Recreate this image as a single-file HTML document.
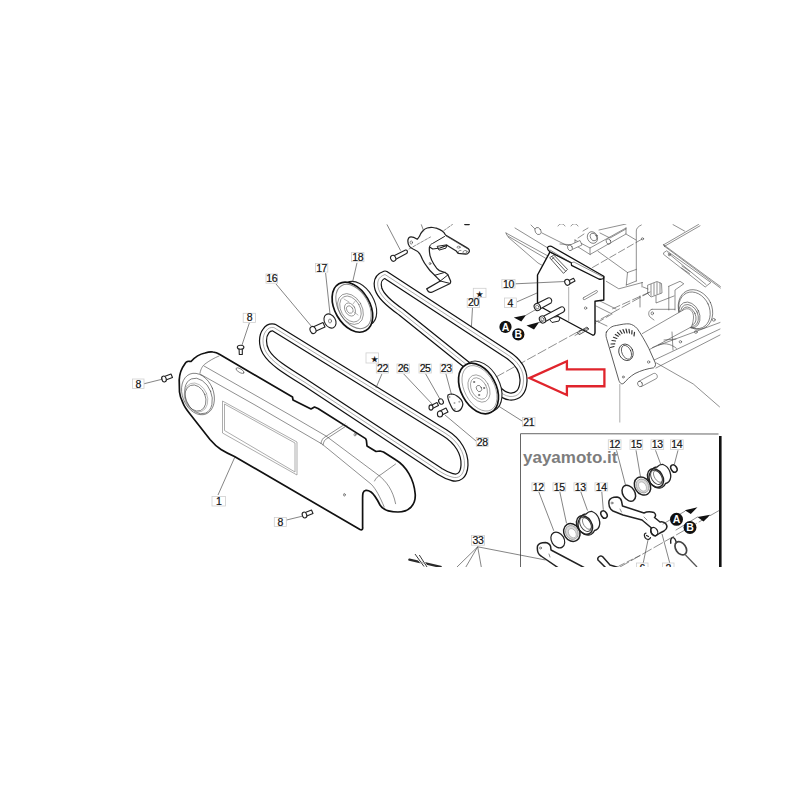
<!DOCTYPE html>
<html><head><meta charset="utf-8">
<style>
html,body{margin:0;padding:0;background:#fff;width:800px;height:800px;overflow:hidden}
svg{display:block}
.k{stroke:#111;stroke-width:1.7;fill:none;stroke-linejoin:round;stroke-linecap:round}
.kf{stroke:#111;stroke-width:1.7;fill:#fff;stroke-linejoin:round;stroke-linecap:round}
.m{stroke:#222;stroke-width:1.1;fill:none;stroke-linejoin:round;stroke-linecap:round}
.mf{stroke:#222;stroke-width:1.1;fill:#fff;stroke-linejoin:round;stroke-linecap:round}
.t{stroke:#444;stroke-width:0.6;fill:none;stroke-linecap:round}
.g{stroke:#777;stroke-width:0.6;fill:none}
.lg{stroke:#8a8a8a;stroke-width:0.7;fill:none}
.ld{stroke:#333;stroke-width:0.6;fill:none}
.lb rect{fill:#fff;stroke:#cfcfcf;stroke-width:0.8}
.lb text{font-family:"Liberation Sans",sans-serif;font-size:10.5px;fill:#111;stroke:#111;stroke-width:0.2;letter-spacing:-0.4px;text-anchor:middle}
</style></head>
<body>
<svg width="800" height="800" viewBox="0 0 800 800">
<defs>
<clipPath id="cl"><rect x="0" y="224" width="800" height="343"/></clipPath>
</defs>
<g clip-path="url(#cl)">

<!-- ===== BACKGROUND MACHINE ===== -->
<g id="machine" class="t">
<path d="M506 233 L548 256 M506 233 L507 235.5 L546 258.5 M508 237 L538 263 L565 278"/>
<path d="M515 228 L547 247.5 M542 233 L568 246 M531 225 L535 229"/>
<ellipse cx="538" cy="231" rx="2.8" ry="3.8" transform="rotate(-30 538 231)"/>
<path d="M558 226 C560 223 563 223 565 226 M571 226 C573 223 576 223 578 226"/>
<path d="M575 240 L590 248 L626 228 M590 248 L590 254.5 L626 234 L626 228 M575 240 L575 245 L590 254.5 M560 244 L575 245"/>
<path d="M598 251.3 L627.5 272.5 L636.3 269.4 M627.5 272.5 L626.3 285 M626 234 L636 240"/>
<path d="M599 230 L626 224 M600 233 L610 238 L626 229"/>
<ellipse style="fill:#fff" cx="592.5" cy="237.5" rx="5" ry="6" transform="rotate(-25 592.5 237.5)"/>
<ellipse cx="593.5" cy="237" rx="3" ry="4" transform="rotate(-25 593.5 237)"/>
<path style="fill:#fff" d="M569 245.5 L580 240.5 L582 245 L571 250 Z"/>
<ellipse style="fill:#fff" cx="570" cy="247.8" rx="2.3" ry="2.9" transform="rotate(-25 570 247.8)"/>
<path d="M583 231 L588 228 M584 234 L578 238"/>
<ellipse cx="608.5" cy="241.5" rx="2.2" ry="2.8" transform="rotate(-25 608.5 241.5)"/>
<path d="M641.3 225 C638 226.5 636.3 228.5 636.3 231 L636.3 281"/>
<path d="M592.5 267.5 L642.5 238.8" style="stroke-dasharray:7 3"/>
<circle cx="642.5" cy="238.8" r="1.1"/>
<path d="M606.3 281.3 L618.8 288.8 L642.5 282.5 M626.3 285 L636.3 281"/>
<path d="M612.5 308.8 L648.8 292.5" style="stroke-dasharray:8 3"/>
<path d="M663.6 244.8 L698.5 224.5 M664.5 246.3 L700 225.8 M663.6 244.8 L664.5 246.3 M663.6 244.8 L720.4 286.5 M664.5 246.3 L720.4 288"/>
<path d="M667 251 L710.9 282.5 L705.2 287 L663.6 254.4 L663.6 253.2 Z M668 253 L706 284.5 M682 266 L690 271.5 M681.5 268 L689.5 273.5"/>
<circle cx="669.3" cy="254.8" r="1"/>
<path d="M673 224.6 L684.5 231"/>
<path d="M648 285 L657 281.5 L661.5 283.5 L662 293 L651 297 L648 294 Z M651 284.5 L651 295.5 M654 283.5 L654 295 M657 282.5 L657 294 M660 283 L660 293"/>
<path d="M642 282.5 L642 287 M643 287 L648 289 M656 296 L656 303 L674 296 M640 296 L640 307"/>
<path d="M668.8 286.3 L680 281.3 L683.8 283.8 L675 290 L675 310 M668.8 286.3 L668.8 310"/>
<path d="M652 309.3 L674.8 309.3 M652 309.3 C648 310 648 315 650 317 L654 320" />
<ellipse cx="652.3" cy="313.3" rx="1.2" ry="1.5"/>
<ellipse style="fill:#fff" cx="695.5" cy="309.5" rx="16.5" ry="20.5" transform="rotate(-25 695.5 309.5)"/>
<ellipse cx="694.5" cy="310.3" rx="15" ry="19" transform="rotate(-25 694.5 310.3)"/>
<ellipse cx="689.4" cy="315" rx="10" ry="13.5" transform="rotate(-25 689.4 315)"/>
<ellipse cx="689.5" cy="315.5" rx="8.3" ry="11.5" transform="rotate(-25 689.5 315.5)"/>
<ellipse cx="689" cy="316" rx="6.5" ry="9.5" transform="rotate(-25 689 316)"/>
<path style="fill:#fff" d="M642.3 333.6 L684.5 309.3 C690 307 694 312 693.5 318 C693 323 692 326 691 327.1 L648.8 349.9"/>
<path d="M652.5 347.5 L720 322.5 M656 368 L720 335 M650 362 L720 329"/>
<path d="M658.5 345 C663 343 670 343 676.4 348.3"/>
<path d="M672 332 L673 350 M664 340 L676 339"/>
<circle cx="695.9" cy="332" r="1.4"/>
<circle cx="680.4" cy="341.8" r="1.2"/>
<circle cx="713.8" cy="319.8" r="1.4"/>
<path d="M600 301 L616 309 M596 306 L612 314 M590 318 L607 326"/>
<path d="M656.5 363 L693.3 384 L719.5 406.8"/>
<path d="M638.5 381.5 L653.5 373.5 C656.5 372.5 658.5 376.5 656.5 378.5 L641.5 386.5"/>
<ellipse cx="640" cy="384" rx="2.3" ry="2.8" transform="rotate(-28 640 384)"/>
<path d="M496 377 L650 292" style="stroke-dasharray:9 3"/>
<path d="M575 335.5 L612 314" style="stroke-dasharray:6 3"/>
</g>
<g id="dial">
<path class="t" style="fill:#fff;stroke:#333;stroke-width:0.8" d="M606.5 332 C609 328 612 326 616.3 325.5 C621 324.5 626 323.5 629.3 323.9 C632 324.3 635 326 637.4 328.8 C641 334 645 341 648.8 348.3 L655.3 362.9 C656 365 655 367 653.6 367.8 C648 368.5 641 370.5 635 373.5 C630 376.5 626.5 380 624 383 C622 384.8 620 383.5 618.9 380.5 L606.6 338.5 C605.8 336 605.8 334 606.5 332 Z"/>
<ellipse class="t" style="stroke:#333;stroke-width:0.8" cx="626" cy="352.3" rx="7" ry="8.5" transform="rotate(-25 626 352.3)"/>
<ellipse class="t" style="stroke:#333;stroke-width:0.7" cx="626.5" cy="352.3" rx="4.5" ry="7.3" transform="rotate(-25 626.5 352.3)"/>
<g class="t" style="stroke-width:1.2;stroke:#333">
<path d="M610.5 347.5 L614 346.5 M611 344 L614.8 343.8 M612 340.5 L615.5 341 M613.5 337.3 L616.8 338.5 M615.3 334.5 L618.3 336.3 M617.5 332.3 L620 334.8 M620 330.5 L622 333.5 M623 329.5 L624.5 333 M626 329 L627 332.8 M629 329.3 L629.5 333 M632 330.5 L631.8 334 M634.5 332.3 L634 335.8"/>
</g>
<circle class="t" cx="623.3" cy="377" r="1"/>
<circle class="t" cx="648.6" cy="362" r="1.2"/>
<path class="lg" d="M619.8 384 L619.8 422.5"/>
</g>

<!-- ===== BELT 20 ===== -->
<g id="belt20">
<path class="k" style="stroke-width:8.2" d="M385 274.5 L505 353 C518 361 524 370 523.5 381 C523 392 518 397 510 396.5 C505 396 501 393 498 390 L401 312 C391 305 381 297 378.5 289 C376.5 282 378 277 385 274.5 Z"/>
<path style="stroke:#fff;stroke-width:5.8;fill:none;stroke-linejoin:round" d="M385 274.5 L505 353 C518 361 524 370 523.5 381 C523 392 518 397 510 396.5 C505 396 501 393 498 390 L401 312 C391 305 381 297 378.5 289 C376.5 282 378 277 385 274.5 Z"/>
<path class="g" d="M385 274.5 L505 353 C518 361 524 370 523.5 381 C523 392 518 397 510 396.5 C505 396 501 393 498 390 L401 312 C391 305 381 297 378.5 289 C376.5 282 378 277 385 274.5 Z"/>
</g>

<!-- ===== BELT 22 ===== -->
<g id="belt22">
<path class="k" style="stroke-width:8.2" d="M273.8 327.5 L445 433 C458 441 465 453 464.5 465 C464 476 458 479 452 477 C448 476 444 474 440 471.5 L305 382.4 C285 370 272 362 266 352 C262 345 262 336 266 331 C268 328 271 327 273.8 327.5 Z"/>
<path style="stroke:#fff;stroke-width:5.8;fill:none;stroke-linejoin:round" d="M273.8 327.5 L445 433 C458 441 465 453 464.5 465 C464 476 458 479 452 477 C448 476 444 474 440 471.5 L305 382.4 C285 370 272 362 266 352 C262 345 262 336 266 331 C268 328 271 327 273.8 327.5 Z"/>
<path class="g" d="M273.8 327.5 L445 433 C458 441 465 453 464.5 465 C464 476 458 479 452 477 C448 476 444 474 440 471.5 L305 382.4 C285 370 272 362 266 352 C262 345 262 336 266 331 C268 328 271 327 273.8 327.5 Z"/>
</g>

<!-- ===== PULLEY 18 ===== -->
<g id="p18">
<ellipse class="mf" cx="359" cy="303.5" rx="15" ry="24" transform="rotate(-30 359 303.5)"/>
<ellipse class="kf" cx="352.4" cy="307.2" rx="17.5" ry="27" transform="rotate(-30 352.4 307.2)"/>
<ellipse class="t" style="stroke:#888;stroke-width:1" cx="353.5" cy="306.5" rx="15" ry="24" transform="rotate(-30 353.5 306.5)"/>
<ellipse class="t" style="stroke:#666" cx="350.5" cy="309" rx="11.5" ry="16.5" transform="rotate(-30 350.5 309)"/>
<ellipse class="t" style="stroke:#666" cx="350.5" cy="309" rx="9.5" ry="14" transform="rotate(-30 350.5 309)"/>
<ellipse class="t" style="stroke:#666" cx="350" cy="309.5" rx="5" ry="7" transform="rotate(-30 350 309.5)"/>
<ellipse class="t" style="stroke:#666" cx="349.7" cy="309.5" rx="3" ry="4" transform="rotate(-30 349.7 309.5)"/>
<path class="t" style="stroke:#888" d="M344 299 L349 302 M356 300 L353 304 M358 315 L354 312"/>
</g>
<!-- washer 17 -->
<ellipse class="m" cx="330" cy="321" rx="5.5" ry="7.5" transform="rotate(-30 330 321)"/>
<ellipse class="t" cx="330" cy="321" rx="1.5" ry="2" />
<!-- screw 16 -->
<path class="mf" d="M313 327 L323 322.5 L325 327 L315 331.5 Z"/>
<ellipse class="mf" cx="313" cy="330" rx="2.8" ry="3.6" transform="rotate(-25 313 330)"/>

<!-- ===== PULLEY 21 ===== -->
<g id="p21">
<ellipse class="mf" cx="482" cy="386.3" rx="17.5" ry="27" transform="rotate(-28 482 386.3)"/>
<ellipse class="kf" cx="478.5" cy="388.5" rx="17.5" ry="27" transform="rotate(-28 478.5 388.5)"/>
<ellipse class="t" style="stroke:#777" cx="479.5" cy="388.3" rx="15" ry="24.5" transform="rotate(-28 479.5 388.3)"/>
<ellipse class="t" style="stroke:#777" cx="479" cy="388.5" rx="10" ry="14.5" transform="rotate(-28 479 388.5)"/>
<ellipse class="t" style="stroke:#777" cx="479" cy="388.5" rx="7.5" ry="11.5" transform="rotate(-28 479 388.5)"/>
<ellipse class="t" cx="479" cy="388.5" rx="2.5" ry="3.3" transform="rotate(-28 479 388.5)"/>
<circle class="t" cx="474" cy="382" r="0.7"/><circle class="t" cx="484" cy="388" r="0.7"/><circle class="t" cx="479" cy="395" r="0.7"/>
</g>

<!-- plate 23, screws 25 26 28 -->
<path class="mf" style="stroke-width:1.2" d="M448 395 C451 393.2 455 394 459 397.5 C462 400 463.5 403 462.5 406 C461.5 409 459 411.5 456.5 411.5 C454 411.5 452.5 409.5 451 406 C449 402 446.8 397.5 448 395 Z"/>
<g style="fill:#aaa"><circle cx="449.5" cy="397" r="1"/><circle cx="459.3" cy="401.8" r="1"/><circle cx="454.8" cy="409.1" r="1"/><circle cx="454.5" cy="403" r="1"/></g>
<ellipse class="mf" cx="441" cy="401.5" rx="2.2" ry="2.8" transform="rotate(-30 441 401.5)"/>
<path class="mf" d="M431 405.5 L437 402.5 L438.5 405.5 L432.5 408.5 Z"/>
<ellipse class="mf" cx="431" cy="407.5" rx="2" ry="2.6"/>
<path class="mf" d="M439 411.5 L446 408 L448 412 L441 415.5 Z"/>
<ellipse class="mf" cx="440" cy="414" rx="2.6" ry="3"/>

<!-- ===== COVER 1 ===== -->
<g id="cover">
<path class="kf" d="M179.5 392 L179.2 380 C179.5 375 181 369 184.5 364.5 C185.5 362 187.5 361 189.5 361.3 L191 361.5 C195 357 200 354 205 353 C208 352 211 351.5 213 352 C215.5 352.3 217.5 353 219 354 L292.5 397 L293 400 L311 409 L314.5 407 L318 408.5 L365.6 438.6 L366.4 440.5 L367 446 L376 451.5 L380 451 L383.5 452 L396 460 C406 466 414 479 415.2 494 C416 505 409 512 398 512 C390 512 383 510 380 505 C377 499 375 495 371 492 C367 489.5 364 490 363 493 C362.5 495 362.6 497 362.6 500 L362.6 527 C363 529 362 530.5 360 529.5 L234.5 456.5 C229 454 225 452 221 449.5 C217 447 213 443 210 439.5 L190 414 C186 409 184 406 183 403 C181 399 179.8 396 179.5 392 Z"/>

<path class="t" d="M200 373 C201 368 203 365.5 205 364 C209 361 214 358 219 356"/>
<path class="t" d="M204 366 L290 415 L326 436 L378.6 475.3 C386 481 393 490 395.6 503.7"/>
<path class="t" d="M200 374 L255 405 L322 444 L371.2 484.2 C376 489 380 497 384.2 507"/>

<path class="t" d="M320.9 443.6 C321.5 440 323 438 325 437 L345.2 424"/>
<path class="t" d="M323 445 C323.5 441.5 325 439.5 327 438.5 L347 425.5"/>
<path class="t" d="M374.5 481 C376 478 378 476 381 474.5 L395.6 464"/>
<ellipse class="t" cx="240" cy="370.6" rx="4.5" ry="1.8" transform="rotate(30 240 370.6)"/>
<ellipse class="t" cx="355" cy="434.7" rx="1" ry="1.3"/>
<ellipse class="t" cx="344.4" cy="494.8" rx="0.9" ry="1.3"/>
<!-- ring -->
<ellipse class="t" cx="198" cy="394" rx="15.5" ry="21.5" transform="rotate(-22 198 394)"/>
<ellipse class="t" cx="198.5" cy="396" rx="13" ry="18.5" transform="rotate(-22 198.5 396)"/>
<ellipse class="t" cx="195.5" cy="398" rx="10" ry="13.5" transform="rotate(-22 195.5 398)"/><ellipse class="t" style="stroke:#999" cx="196" cy="397.5" rx="11.3" ry="15" transform="rotate(-22 196 397.5)"/>
<!-- window -->
<path class="lg" d="M222.5 401 L297 442 L297 475 L222.5 433 Z"/>
<path class="lg" d="M224.5 404 L295 443 L295 472 L224.5 430.5 Z"/>
</g>

<!-- screws 8 -->
<path class="mf" d="M163 377 L171 374 L172.5 377.5 L164.5 380.5 Z"/>
<ellipse class="mf" cx="164" cy="379" rx="2.2" ry="3" transform="rotate(-20 164 379)"/>
<path class="mf" d="M239 347 L242.3 347 L242.3 354.5 L239.3 354.5 Z"/>
<ellipse class="mf" cx="240.6" cy="347.2" rx="3.3" ry="2"/>
<path class="mf" d="M304 513 L311.5 510 L313 513.5 L305.5 516.5 Z"/>
<ellipse class="mf" cx="304.5" cy="515" rx="2.2" ry="3" transform="rotate(-20 304.5 515)"/>

<!-- ===== BRACKET ===== -->
<g id="bracket">
<path class="mf" style="stroke-width:1.25" d="M408 239.7 C408.5 237.5 410 236.8 411 236.8 C412.5 236.8 415 237.8 417.3 239.2 C418.5 238 419 237 419.7 235.9 C420.5 233.5 421.5 232.3 422.5 231.25 C424 229.5 425.5 228.5 427.2 228 C429 227.5 431 227.3 432.8 227.5 C435 227.7 437.5 228.3 439.4 229.4 C441.5 230.5 443 231.5 444 232.7 L445.5 235 L467.5 248.1 C469.3 249 469.8 251 468.9 252.3 C468 253.8 466.5 254.3 465.6 254.2 L458.1 253.3 L456.25 251 L446.9 245.3 L440 248 L432.8 249 L429.5 247 C429 250 429.5 253 430 255.6 C431 259 432.5 262 433.75 264 C435.5 267 437.5 269.5 439.4 270.6 L445 272.5 L447.8 274.4 L450.6 281 C450.8 282.3 450.3 283.3 449.7 283.75 L431.9 292.2 C430.5 292.7 429 292.2 428.1 291.25 L426.7 288.9 L440.3 281 L437.5 278.1 L434.7 275.3 C431.5 272.5 429 270 427.2 266.9 C425 264 423.5 261.5 422.5 259.4 C421.5 257 420.5 255 419.7 253.75 C418 251.5 415.5 250 413.1 249 C411 248 409.8 247 409.4 246.25 C408 244 407.7 241.5 408 239.7 Z"/>
<path class="m" style="stroke-width:1" d="M429.5 247 C430 245 431 244 432.5 243.5 L444.5 236.5 M437.5 246.3 L446.9 244.8 L446 248.1 L439.4 250 Z M434.7 275.3 L445 272.3 M440.3 281 L447.8 275 M440.3 281 L449.5 283.3"/>
<path class="t" d="M446 236 L467 248.5 M458.5 253 C458 251 459 250 461 250.5 M436 228 L437 228"/>
<ellipse class="t" cx="411.3" cy="242.5" rx="1.2" ry="1.6"/>
<ellipse class="t" cx="430" cy="263.6" rx="0.9" ry="1.2"/>
<ellipse class="t" cx="458.6" cy="247.2" rx="1.6" ry="1"/>
<ellipse class="t" cx="465" cy="252" rx="2.2" ry="1.4" transform="rotate(-20 465 252)"/>
<path class="t" d="M409 249 L430.5 237 M443.8 230.6 L452.5 224.4" style="stroke-dasharray:3 1.5"/>
<path class="m" style="stroke-width:1.6" d="M465 224.4 L469 224.4"/>
<path class="mf" style="stroke-width:1.1" d="M393.5 256 L405.5 250 C407.5 249.5 408 252.5 406.5 253.5 L394.5 260"/>
<ellipse class="mf" style="stroke-width:1.1" cx="393.2" cy="258.3" rx="2.5" ry="3" transform="rotate(-25 393.2 258.3)"/>
</g>

<!-- ===== PANEL 4 ===== -->
<g id="panel">
<path class="mf" style="stroke:#111;stroke-width:1.4" d="M550 251.9 L603.8 277 L603.8 300 L595 301.3 L595 332.5 C595 334.5 593.5 335.5 592.5 335 L560 317.5 L537.5 305 L537.5 275 Z"/>
<path class="mf" style="stroke:#111;stroke-width:1.3" d="M547.5 247.5 C548 246.5 549.5 246 551.3 246.3 L603.8 276.3 L603.5 278.5 C602 279.3 600 279.3 598.8 279 L571.5 265.3 L571.3 262.8 L550 251.9 C548.5 251 547.3 249.5 547.5 247.5 Z"/>
<path class="t" d="M550 250 L571.3 262.8 M571.3 262.8 L574 262 L603 277"/>
<path class="t" style="stroke:#333;stroke-width:0.8" d="M550 257.5 L553.8 255 L567.5 269.4 L563.8 273.1 Z M552 256.5 L565.5 271 M551.5 259.5 L554 257.5"/>
<path class="t" d="M583.8 297.5 L596 290.6 C597.5 290 598 292 597 292.5 L584.8 299.5 C583 300.3 582.5 298.3 583.8 297.5 Z"/>
<circle class="t" cx="585.6" cy="308.1" r="1.2"/>
<path class="t" style="stroke:#333;stroke-width:0.8" d="M577.5 332.5 L587 327 L589 329 L579.5 334.5 Z M579 331 L587.5 328.5"/>
<path class="lg" d="M568.7 287 L568.7 321"/>
<path class="m" style="stroke-width:1.1" d="M568 281 L573.5 278.3 L575 281 L569.5 284 Z"/>
<ellipse class="mf" cx="567.3" cy="282.3" rx="2.5" ry="3" transform="rotate(-25 567.3 282.3)"/>
<path class="m" style="stroke-width:1" d="M550 320 L552 322.5 L559 321 L560 317.5"/>
<path class="mf" d="M536 304 L548 298 C551 297 553 301 551 303 L539 309.5"/>
<ellipse class="mf" cx="537.3" cy="307" rx="3" ry="3.7" transform="rotate(-25 537.3 307)"/>
<ellipse class="t" cx="537.3" cy="307" rx="1.5" ry="2" transform="rotate(-25 537.3 307)"/>
<path class="m" d="M551 313 L555 317 L558 316.5 L557 311"/>
<path class="mf" d="M542 317 L561 307 C564 306 566 310 563.5 312 L544.5 322"/>
<ellipse class="mf" cx="542.5" cy="319.5" rx="3" ry="3.7" transform="rotate(-25 542.5 319.5)"/>
<ellipse class="t" cx="542.5" cy="319.5" rx="1.5" ry="2" transform="rotate(-25 542.5 319.5)"/>
<path class="t" d="M526.3 315 L535 310 M539.4 322.5 L543 320.5"/>
<path d="M513.8 317.5 L526.1 314.9 L521.3 321.6 Z M526.5 325.4 L539.3 322 L534 329.5 Z" style="fill:#111"/>
<circle cx="505.5" cy="326.9" r="6.1" style="fill:#111"/>
<circle cx="518.3" cy="334.4" r="6.1" style="fill:#111"/>
<text x="505.5" y="330.5" style="font-family:'Liberation Sans',sans-serif;font-weight:bold;font-size:10.5px;fill:#fff;text-anchor:middle">A</text>
<text x="518.3" y="338" style="font-family:'Liberation Sans',sans-serif;font-weight:bold;font-size:10.5px;fill:#fff;text-anchor:middle">B</text>
<line class="ld" x1="515.6" y1="283.8" x2="565" y2="281.5"/>
<line class="ld" x1="516.9" y1="301.9" x2="537" y2="293"/>
</g>

<!-- ===== LEADERS ===== -->
<g class="ld">
<line x1="143" y1="384" x2="163" y2="379"/>
<line x1="249.5" y1="322.5" x2="242" y2="345"/>
<line x1="282.5" y1="521" x2="303" y2="516"/>
<line x1="218" y1="495" x2="235" y2="456.7"/>
<line x1="276" y1="284" x2="312" y2="327"/>
<line x1="325.6" y1="273" x2="330" y2="314"/>
<line x1="357" y1="262.8" x2="352.6" y2="282"/>
<line x1="381.9" y1="374" x2="376" y2="387.8"/>
<line x1="403.6" y1="373.8" x2="432" y2="403.9"/>
<line x1="425.6" y1="373.8" x2="440.2" y2="399.5"/>
<line x1="445.9" y1="373.8" x2="451.6" y2="395"/>
<line x1="445" y1="415" x2="476" y2="441"/>
<line x1="498.75" y1="406.25" x2="522.5" y2="421.25"/>
<line x1="472.5" y1="307.5" x2="471.4" y2="327"/>
<line x1="400.6" y1="250.6" x2="386.9" y2="224.4"/>
<line x1="423.75" y1="231.25" x2="421.25" y2="224.4"/>
</g>

<!-- ===== LABELS ===== -->
<g class="lb">
<rect x="132.5" y="379" width="11.5" height="9.5"/><text x="138.3" y="387.5">8</text>
<rect x="243.2" y="313.3" width="12.4" height="9.2"/><text x="249.4" y="321.2">8</text>
<rect x="274.3" y="517.5" width="12" height="9"/><text x="280.3" y="525.7">8</text>
<rect x="212" y="496.5" width="13.5" height="9.5"/><text x="218.8" y="504.9">1</text>
<rect x="266" y="274" width="11.5" height="9.2"/><text x="271.7" y="282.3">16</text>
<rect x="315.4" y="263.5" width="12.4" height="8.6"/><text x="321.6" y="271.6">17</text>
<rect x="351.5" y="252.6" width="12.4" height="9.1"/><text x="357.7" y="260.9">18</text>
<rect x="366" y="352.9" width="12.4" height="10.1"/><text x="374.6" y="362" style="font-size:7.5px">★</text>
<rect x="376.3" y="364" width="12.3" height="9"/><text x="382.4" y="372.2">22</text>
<rect x="397" y="364" width="12.3" height="9"/><text x="403.1" y="372.2">26</text>
<rect x="419" y="364" width="12.3" height="9"/><text x="425.1" y="372.2">25</text>
<rect x="440.2" y="364" width="12.2" height="9"/><text x="446.3" y="372.2">23</text>
<rect x="476.3" y="437.5" width="11.8" height="8.8"/><text x="482.2" y="445.6">28</text>
<rect x="522.5" y="417.5" width="12.5" height="8.8"/><text x="528.7" y="425.6">21</text>
<rect x="473.3" y="288.3" width="12.7" height="9"/><text x="479" y="296.8" style="font-size:7.5px">★</text>
<rect x="467.2" y="298.5" width="12.4" height="9"/><text x="473.4" y="306.3">20</text>
<rect x="501.9" y="279.4" width="13.1" height="8.7"/><text x="508.4" y="287.6">10</text>
<rect x="504.4" y="298" width="11.9" height="9.5"/><text x="510.3" y="306.6">4</text>
</g>

<!-- ===== RED ARROW ===== -->
<path d="M529.4 378.1 L566.9 361.25 L566.9 369.4 L604.4 369.4 L604.4 386.25 L566.9 386.25 L566.9 395 Z" style="fill:none;stroke:#e0242c;stroke-width:2.3;stroke-linejoin:miter"/>

<!-- ===== BOX ===== -->
<g id="box">
<path d="M520.5 567 L520.5 433.7 L718.5 434" style="stroke:#666;stroke-width:1;fill:none"/>
<line x1="720.3" y1="436" x2="720.3" y2="567" style="stroke:#111;stroke-width:2.6"/>
<g id="boxparts">
<!-- upper group -->
<ellipse class="m" style="stroke-width:1.5" cx="628.7" cy="493.2" rx="6" ry="8.6" transform="rotate(-32 628.8 493)"/>
<ellipse class="m" style="stroke-width:1.5" cx="642.5" cy="486" rx="7.6" ry="9.6" transform="rotate(-32 642.5 486)"/>
<ellipse style="fill:#d8d8d8;stroke:#999;stroke-width:0.8" cx="642.5" cy="486" rx="6" ry="7.3" transform="rotate(-32 642.5 486)"/>
<ellipse style="fill:#fff;stroke:#aaa;stroke-width:0.7" cx="642.5" cy="486.5" rx="3.5" ry="5" transform="rotate(-32 642.5 486.5)"/>
<path class="mf" style="stroke-width:1.3" d="M651 471 C653 468 655.5 467 657 467 C659 465 661 464.3 663 464.5 C666 465.5 668.5 468 670 472 C671 475 671 479 669 481.5 C668 482.5 666.5 483.3 665.5 483.5 C665 485 664 486.5 662 487.5 C658 489 653 487 650.5 483 C648.5 479 649 474 651 471 Z"/>
<ellipse class="m" style="stroke-width:1.5" cx="655.5" cy="478" rx="7.2" ry="10" transform="rotate(-32 655.5 478)"/>
<ellipse class="t" style="stroke-width:1" cx="656.5" cy="477.3" rx="5" ry="7.8" transform="rotate(-32 656.5 477.3)"/>
<ellipse class="t" cx="658" cy="476.5" rx="3.5" ry="6.5" transform="rotate(-32 658 476.5)"/>
<ellipse class="m" style="stroke-width:1.5" cx="673.9" cy="468.5" rx="2.8" ry="3.9" transform="rotate(-32 673.9 468.5)"/>
<path class="mf" style="stroke-width:1.5" d="M609 501 C610 498 613 497 617 497 C620 497.5 621 499 621.5 501 L622.5 506 L644 513 C646 512 650 511.5 654 512.5 C656 514 656 516 654.5 517.5 L660 522 C662 521.5 664 521.5 666 524 C668 527 667 529 664 531 L660 533 L655.5 536 C653 536 651 533 651 531 C650.5 529 651 528.5 651.5 528 L642 520 L623 515 L613 511 C609.5 509 608.5 505 609 501 Z"/>
<ellipse class="m" style="stroke-width:1.2" cx="654.2" cy="531.5" rx="3.3" ry="4.3" transform="rotate(-30 654.2 531.5)"/>
<circle class="t" cx="612" cy="503" r="1"/>
<path class="t" d="M620 509 L621.5 512 M644 517 L647 520"/>
<path class="m" style="stroke-width:1.2" d="M646 533 C643.5 533.5 644 537.5 646.5 539 C648.5 540 650 539 650.5 537.5 M646.5 535.5 L648.5 536.5"/>
<path class="m" style="stroke-width:1.4" d="M670.8 543.2 C670.3 540 671 537.5 673 537.6 C675 537.8 675.8 540.5 676.3 542.5"/><ellipse style="fill:none;stroke:#444;stroke-width:1.7" cx="680.8" cy="548.3" rx="5" ry="7.3" transform="rotate(-35 680.8 548.3)"/><path style="stroke:#555;stroke-width:1.3;fill:none" d="M685.5 555 L697 567"/>
<path class="ld" d="M648 540 L643 564 M662 534 L670 564"/>
<path class="t" d="M620 567 L720 510" style="stroke-dasharray:10 3"/>
<g class="lb"><rect x="636.5" y="563" width="11.5" height="10"/><text x="642.3" y="572">6</text><rect x="662.5" y="563" width="11.5" height="10"/><text x="668.3" y="572">2</text></g>
<path class="t" d="M684.8 511.3 L663 524"/>
<path d="M684.8 510.3 L697.5 507.2 L690.8 514 Z M697.5 517 L710.3 514.7 L703.5 521.5 Z" style="fill:#111"/>
<path class="t" d="M697.5 517 L676 530"/>
<circle cx="676.5" cy="519.3" r="6.5" style="fill:#111"/>
<circle cx="690" cy="527.5" r="6.5" style="fill:#111"/>
<text x="676.5" y="523" style="font-family:'Liberation Sans',sans-serif;font-weight:bold;font-size:10.5px;fill:#fff;text-anchor:middle">A</text>
<text x="690" y="531.3" style="font-family:'Liberation Sans',sans-serif;font-weight:bold;font-size:10.5px;fill:#fff;text-anchor:middle">B</text>
<!-- lower group -->
<ellipse class="m" style="stroke-width:1.2" cx="557.8" cy="540" rx="6.3" ry="8.4" transform="rotate(-32 557.8 540)"/>
<ellipse class="m" style="stroke-width:1.5" cx="571.8" cy="532.5" rx="7.8" ry="9.3" transform="rotate(-32 571.8 532.5)"/>
<ellipse style="fill:#d8d8d8;stroke:#999;stroke-width:0.8" cx="571.8" cy="532.5" rx="6" ry="7.3" transform="rotate(-32 571.8 532.5)"/>
<ellipse style="fill:#fff;stroke:#aaa;stroke-width:0.7" cx="572.3" cy="533.2" rx="3.5" ry="5" transform="rotate(-32 572.3 533.2)"/>
<path class="mf" style="stroke-width:1.3" d="M580 518 C582 515 584.5 514 586 514 C588 512 590 511.3 592 511.5 C595 512.5 597.5 515 599 519 C600 522 600 526 598 528.5 C597 529.5 595.5 530.3 594.5 530.5 C594 532 593 533.5 591 534.5 C587 536 582 534 579.5 530 C577.5 526 578 521 580 518 Z"/>
<ellipse class="m" style="stroke-width:1.5" cx="584.5" cy="525" rx="7.2" ry="10" transform="rotate(-32 584.5 525)"/>
<ellipse class="t" style="stroke-width:1" cx="585.5" cy="524.3" rx="5" ry="7.8" transform="rotate(-32 585.5 524.3)"/>
<ellipse class="t" cx="587" cy="523.5" rx="3.5" ry="6.5" transform="rotate(-32 587 523.5)"/>
<ellipse class="m" style="stroke-width:1.5" cx="604" cy="514.5" rx="2.8" ry="3.9" transform="rotate(-32 604 514.5)"/>
<path class="mf" style="stroke-width:1.5" d="M537.5 546 C538.5 543.5 541 542.5 545.5 542.5 C548.5 543 550 544.5 550.6 546.5 L551 550 L584 567.5 L584 569 L560 569 L541 556 C537.5 554 537 550 537.5 546 Z"/>
<circle class="t" cx="540.5" cy="548" r="1"/>
<path class="t" d="M549 554 L550 557"/>
<path class="mf" style="stroke-width:1.5" d="M598 557.8 C599 556 601 555.5 602.5 556.5 L610 565 L620 568 L606 568 L599 561 C597.5 560 597.5 559 598 557.8 Z"/>
<path class="t" d="M619 566 L640 555.5" style="stroke-dasharray:6 3"/>
</g>
<g class="ld">
<line x1="616.5" y1="450.3" x2="625.5" y2="485"/>
<line x1="636" y1="450.3" x2="640.5" y2="476.8"/>
<line x1="655.5" y1="450.3" x2="660.8" y2="464.5"/>
<line x1="678" y1="450.3" x2="674.3" y2="464.5"/>
<line x1="538.8" y1="491.8" x2="553.8" y2="530.8"/>
<line x1="559.8" y1="491.8" x2="566.5" y2="523.3"/>
<line x1="580.8" y1="491.8" x2="587.5" y2="510.5"/>
<line x1="601.8" y1="491.8" x2="603.3" y2="509.8"/>
<line x1="477.7" y1="546.8" x2="456.9" y2="567.1"/>
<line x1="477.7" y1="546.8" x2="465.8" y2="567.1"/>
<line x1="477.7" y1="546.8" x2="481.3" y2="567.1"/>
<line x1="477.7" y1="546.8" x2="545.5" y2="560"/>
</g>
<path d="M409.4 559.7 L440.6 566.8" style="stroke:#2a2a2a;stroke-width:2.4;stroke-linecap:round"/>
<path d="M415 554 L424 566.5 M419.3 555 L427 567" style="stroke:#fff;stroke-width:2.2;fill:none"/><path d="M415 554 L424 566.5 M419.3 555 L427 567" style="stroke:#222;stroke-width:0.9;fill:none"/>
<g class="lb">
<rect x="608.3" y="439.8" width="12.7" height="9.7"/><text x="614.6" y="448.3">12</text>
<rect x="630" y="439.8" width="12.7" height="9.7"/><text x="636.3" y="448.3">15</text>
<rect x="651" y="439.8" width="12.7" height="9.7"/><text x="657.3" y="448.3">13</text>
<rect x="670.5" y="439.8" width="12.7" height="9.7"/><text x="676.8" y="448.3">14</text>
<rect x="532" y="482.8" width="12.7" height="8.2"/><text x="538.3" y="490.6">12</text>
<rect x="553" y="482.8" width="12.7" height="8.2"/><text x="559.3" y="490.6">15</text>
<rect x="574" y="482.8" width="12.7" height="8.2"/><text x="580.3" y="490.6">13</text>
<rect x="595" y="482.8" width="12.7" height="8.2"/><text x="601.3" y="490.6">14</text>
<rect x="471.5" y="535.4" width="13" height="9.8"/><text x="478" y="544.2">33</text>
</g>
<text x="523" y="462.5" style="font-family:'Liberation Sans',sans-serif;font-weight:bold;font-size:17px;fill:#7d7d7d">yayamoto.it</text>
</g>

</g>
</svg>
</body></html>
